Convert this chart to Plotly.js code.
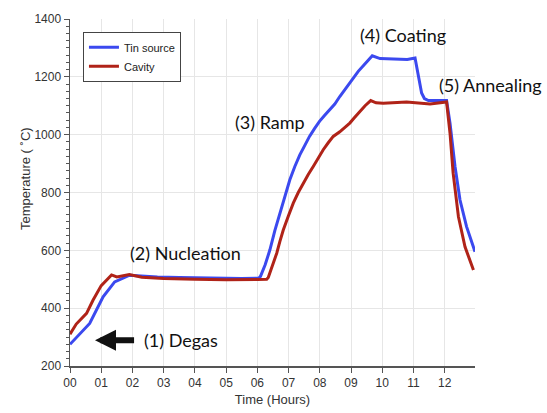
<!DOCTYPE html>
<html>
<head>
<meta charset="utf-8">
<script src="https://cdn.plot.ly/plotly-3.0.1.min.js"></script>
<style>html,body{margin:0;padding:0;background:#fff;}#chart{width:547px;height:413px;}</style>
</head>
<body>
<div id="chart"></div>
<script>
// Data
const tinTime = [0, 0.3, 0.63, 1.06, 1.43, 1.91, 2.2, 2.8, 3.5, 4.5, 5.5, 6.05, 6.1, 6.25, 6.4, 6.56, 6.72, 6.88, 7.04, 7.2, 7.36, 7.52, 7.67, 7.83, 7.99, 8.15, 8.32, 8.48, 8.64, 8.8, 8.96, 9.1, 9.23, 9.45, 9.68, 9.93, 10.3, 10.57, 10.8, 11.05, 11.15, 11.26, 11.35, 11.48, 11.8, 12.06, 12.17, 12.33, 12.49, 12.7, 12.97];
const tinTemp = [275, 310, 347, 439, 491, 514, 512, 508, 506, 504, 503, 504, 510, 550, 601, 668, 728, 790, 844, 890, 930, 963, 994, 1021, 1046, 1066, 1086, 1106, 1132, 1155, 1178, 1197, 1219, 1245, 1273, 1263, 1262, 1262, 1260, 1265, 1202, 1144, 1125, 1118, 1118, 1118, 1040, 890, 774, 682, 595];

const cavTime = [0, 0.2, 0.53, 0.74, 1.0, 1.33, 1.5, 1.9, 2.3, 3, 4, 5, 6, 6.3, 6.35, 6.48, 6.62, 6.72, 6.83, 6.99, 7.15, 7.31, 7.47, 7.63, 7.79, 7.95, 8.11, 8.27, 8.43, 8.64, 8.8, 8.96, 9.12, 9.28, 9.45, 9.63, 9.8, 10.03, 10.78, 11.53, 12.06, 12.17, 12.27, 12.44, 12.65, 12.92];
const cavTemp = [310, 345, 382, 428, 478, 515, 508, 516, 507, 503, 500, 498, 499, 500, 506, 545, 590, 630, 670, 718, 763, 800, 832, 862, 890, 920, 948, 972, 994, 1010, 1025, 1040, 1060, 1080, 1100, 1118, 1110, 1109, 1113, 1106, 1113, 1005, 867, 716, 612, 532];

const xTickVals = [0,1,2,3,4,5,6,7,8,9,10,11,12];
const xTickText = ["00","01","02","03","04","05","06","07","08","09","10","11","12"];
const yTickVals = [200, 400, 600, 800, 1000, 1200, 1400];

const stageLabels = ["(1) Degas", "(2) Nucleation", "(3) Ramp", "(4) Coating"];
const stageX = [3.55, 3.71, 6.4, 10.66];
const stageY = [289, 592, 1045, 1346];
const annealLabel = "(5) Annealing";

const traces = [
  {x: tinTime, y: tinTemp, name: "Tin source", mode: "lines", line: {color: "#3b49ef", width: 3}},
  {x: cavTime, y: cavTemp, name: "Cavity", mode: "lines", line: {color: "#b02318", width: 3}}
];

const annFont = {family: "Lato, 'Open Sans', sans-serif", size: 18, color: "#111"};
const annotations = stageLabels.map((t, i) => ({
  x: stageX[i], y: stageY[i], xref: "x", yref: "y", text: t, showarrow: false,
  font: annFont, xanchor: "center", yanchor: "middle"
}));
annotations.push({
  x: 1.0395, y: 0.81, xref: "paper", yref: "paper", text: annealLabel, showarrow: false,
  font: annFont, xanchor: "center", yanchor: "middle"
});
// Degas arrow
annotations.push({
  x: 0.8, y: 289, xref: "x", yref: "y", ax: 2.1, ay: 289, axref: "x", ayref: "y",
  text: "", showarrow: true, arrowhead: 2, arrowsize: 0.7, arrowwidth: 6, arrowcolor: "#111"
});
// Y axis title
annotations.push({
  x: -0.1086, y: 0.539, xref: "paper", yref: "paper", text: "Temperature ( ˚C)", showarrow: false,
  textangle: -90, font: {family: "'Liberation Sans', Arial, sans-serif", size: 13, color: "#333"},
  xanchor: "center", yanchor: "middle"
});

const layout = {
  width: 547, height: 413,
  margin: {l: 70, r: 72, t: 19, b: 47},
  paper_bgcolor: "#fff", plot_bgcolor: "#fff",
  font: {family: "'Liberation Sans', Arial, sans-serif", size: 12, color: "#333"},
  showlegend: true,
  legend: {
    x: 0.032, y: 0.963, xanchor: "left", yanchor: "top",
    bordercolor: "#444", borderwidth: 1, bgcolor: "#fff",
    font: {size: 11, color: "#222"}, tracegroupgap: 0
  },
  xaxis: {
    range: [0, 12.97], tickvals: xTickVals, ticktext: xTickText,
    showgrid: true, gridcolor: "#e6e6e6", gridwidth: 1,
    showline: true, linecolor: "#555", linewidth: 1.5,
    ticks: "outside", ticklen: 5, tickcolor: "#555",
    zeroline: false,
    title: {text: "Time (Hours)", font: {size: 13, color: "#333"}, standoff: 6}
  },
  yaxis: {
    range: [200, 1400], tickvals: yTickVals,
    showgrid: true, gridcolor: "#e6e6e6", gridwidth: 1,
    showline: true, linecolor: "#555", linewidth: 1.5,
    ticks: "outside", ticklen: 5, tickcolor: "#555",
    minor: {dtick: 25, ticks: "outside", ticklen: 3, tickcolor: "#555", showgrid: false},
    zeroline: false
  },
  annotations: annotations
};

Plotly.newPlot("chart", traces, layout, {displayModeBar: false, staticPlot: true});
</script>
</body>
</html>
